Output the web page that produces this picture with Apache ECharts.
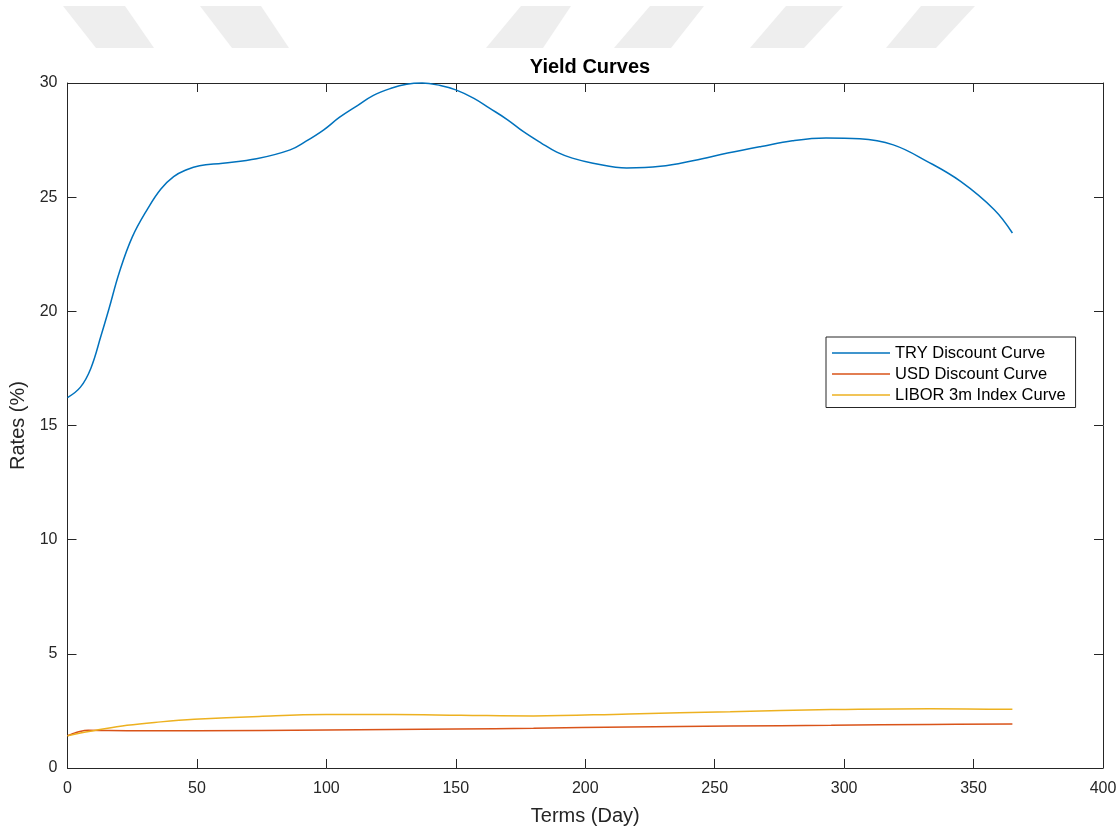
<!DOCTYPE html>
<html>
<head>
<meta charset="utf-8">
<script src="https://cdn.jsdelivr.net/npm/echarts@6/dist/echarts.min.js"></script>
<style>
html,body{margin:0;padding:0;background:#fff;}
#chart{width:1120px;height:831px;}
</style>
</head>
<body>
<div id="chart"></div>
<script>
// ---- data ----
const xTicks = [0, 50, 100, 150, 200, 250, 300, 350, 400];
const yTicks = [0, 5, 10, 15, 20, 25, 30];
const seriesNames = ['TRY Discount Curve', 'USD Discount Curve', 'LIBOR 3m Index Curve'];

const tryDays  = [0, 5, 9, 13, 16, 20, 25, 31, 36, 41, 46, 51, 60, 73, 86, 92, 99, 105, 112, 118, 125, 131, 137, 144, 150, 157, 163, 170, 176, 183, 189, 195, 203, 216, 229, 242, 255, 268, 280, 293, 306, 319, 332, 345, 358, 365];
const tryRates = [16.22, 16.68, 17.5, 18.95, 20.1, 21.7, 23.25, 24.5, 25.35, 25.9, 26.2, 26.38, 26.49, 26.68, 27.07, 27.44, 27.95, 28.49, 29.01, 29.45, 29.77, 29.95, 30.0, 29.89, 29.7, 29.33, 28.9, 28.39, 27.88, 27.37, 26.97, 26.71, 26.49, 26.28, 26.35, 26.61, 26.93, 27.22, 27.47, 27.59, 27.56, 27.29, 26.57, 25.69, 24.45, 23.43];

const usdDays  = [0, 2, 4, 8, 16, 30, 50, 100, 150, 180, 217, 256, 295, 333, 365];
const usdRates = [1.41, 1.5, 1.58, 1.65, 1.64, 1.63, 1.63, 1.66, 1.71, 1.74, 1.80, 1.84, 1.87, 1.91, 1.93];

const liborDays  = [0, 5, 10, 23, 36, 49, 74, 100, 126, 152, 180, 217, 256, 295, 333, 365];
const liborRates = [1.41, 1.53, 1.63, 1.87, 2.02, 2.13, 2.26, 2.34, 2.34, 2.31, 2.28, 2.37, 2.46, 2.56, 2.60, 2.57];

const zip = (xs, ys) => xs.map((x, i) => [x, ys[i]]);

// ---- chart ----
const FONT = 'Liberation Sans, Arial, Helvetica, sans-serif';
const AX = '#262626';
const chart = echarts.init(document.getElementById('chart'), null, {renderer: 'canvas'});

const stripeColor = '#eeeeee';
const stripes = [
  [[63,6],[125,6],[154,48],[96,48]],
  [[200,6],[261,6],[289,48],[232,48]],
  [[521,6],[571,6],[543,48],[486,48]],
  [[650,6],[704,6],[671,48],[614,48]],
  [[786,6],[843,6],[804,48],[750,48]],
  [[921,6],[975,6],[936,48],[886,48]]
];

const valueAxisCommon = {
  type: 'value',
  axisLine: {show: true, onZero: false, lineStyle: {color: AX, width: 1}},
  axisTick: {show: true, inside: true, length: 9, lineStyle: {color: AX, width: 1}},
  splitLine: {show: false}
};

chart.setOption({
  backgroundColor: '#ffffff',
  animation: false,
  graphic: stripes.map(p => ({type: 'polygon', z: -10, shape: {points: p}, style: {fill: stripeColor}})),
  title: {
    text: 'Yield Curves',
    left: 585, top: 52, textAlign: 'center',
    textStyle: {fontFamily: FONT, fontSize: 20, fontWeight: 'bold', color: '#000'}
  },
  grid: {left: 67.5, right: 17, top: 83, bottom: 61.5, containLabel: false},
  legend: {
    orient: 'vertical',
    left: 826, top: 337,
    padding: [5.5, 10, 2, 6],
    icon: 'rect',
    itemWidth: 58, itemHeight: 1.6, itemGap: 0, itemTextGap: 5,
    backgroundColor: '#fff',
    borderColor: AX, borderWidth: 1,
    textStyle: {fontFamily: FONT, fontSize: 16.5, lineHeight: 21, color: '#000'},
    data: seriesNames
  },
  xAxis: [
    Object.assign({}, valueAxisCommon, {
      position: 'bottom', min: xTicks[0], max: xTicks[xTicks.length - 1], interval: 50,
      axisLabel: {show: true, margin: 13, fontFamily: FONT, fontSize: 16, color: AX},
      name: 'Terms (Day)', nameLocation: 'middle', nameGap: 38,
      nameTextStyle: {fontFamily: FONT, fontSize: 20, color: AX}
    }),
    Object.assign({}, valueAxisCommon, {
      position: 'top', min: xTicks[0], max: xTicks[xTicks.length - 1], interval: 50,
      axisLabel: {show: false}
    })
  ],
  yAxis: [
    Object.assign({}, valueAxisCommon, {
      position: 'left', min: yTicks[0], max: yTicks[yTicks.length - 1], interval: 5,
      axisLabel: {show: true, margin: 10, fontFamily: FONT, fontSize: 16, color: AX},
      name: 'Rates (%)', nameLocation: 'middle', nameGap: 35,
      nameTextStyle: {fontFamily: FONT, fontSize: 20, color: AX}
    }),
    Object.assign({}, valueAxisCommon, {
      position: 'right', min: yTicks[0], max: yTicks[yTicks.length - 1], interval: 5,
      axisLabel: {show: false}
    })
  ],
  series: [
    {name: seriesNames[0], type: 'line', data: zip(tryDays, tryRates), smooth: 0.4, symbol: 'none',
     lineStyle: {color: '#0072BD', width: 1.5}, itemStyle: {color: '#0072BD'}, clip: false},
    {name: seriesNames[1], type: 'line', data: zip(usdDays, usdRates), smooth: 0.4, symbol: 'none',
     lineStyle: {color: '#D95319', width: 1.5}, itemStyle: {color: '#D95319'}},
    {name: seriesNames[2], type: 'line', data: zip(liborDays, liborRates), smooth: 0.4, symbol: 'none',
     lineStyle: {color: '#EDB120', width: 1.5}, itemStyle: {color: '#EDB120'}}
  ]
});
</script>
</body>
</html>
